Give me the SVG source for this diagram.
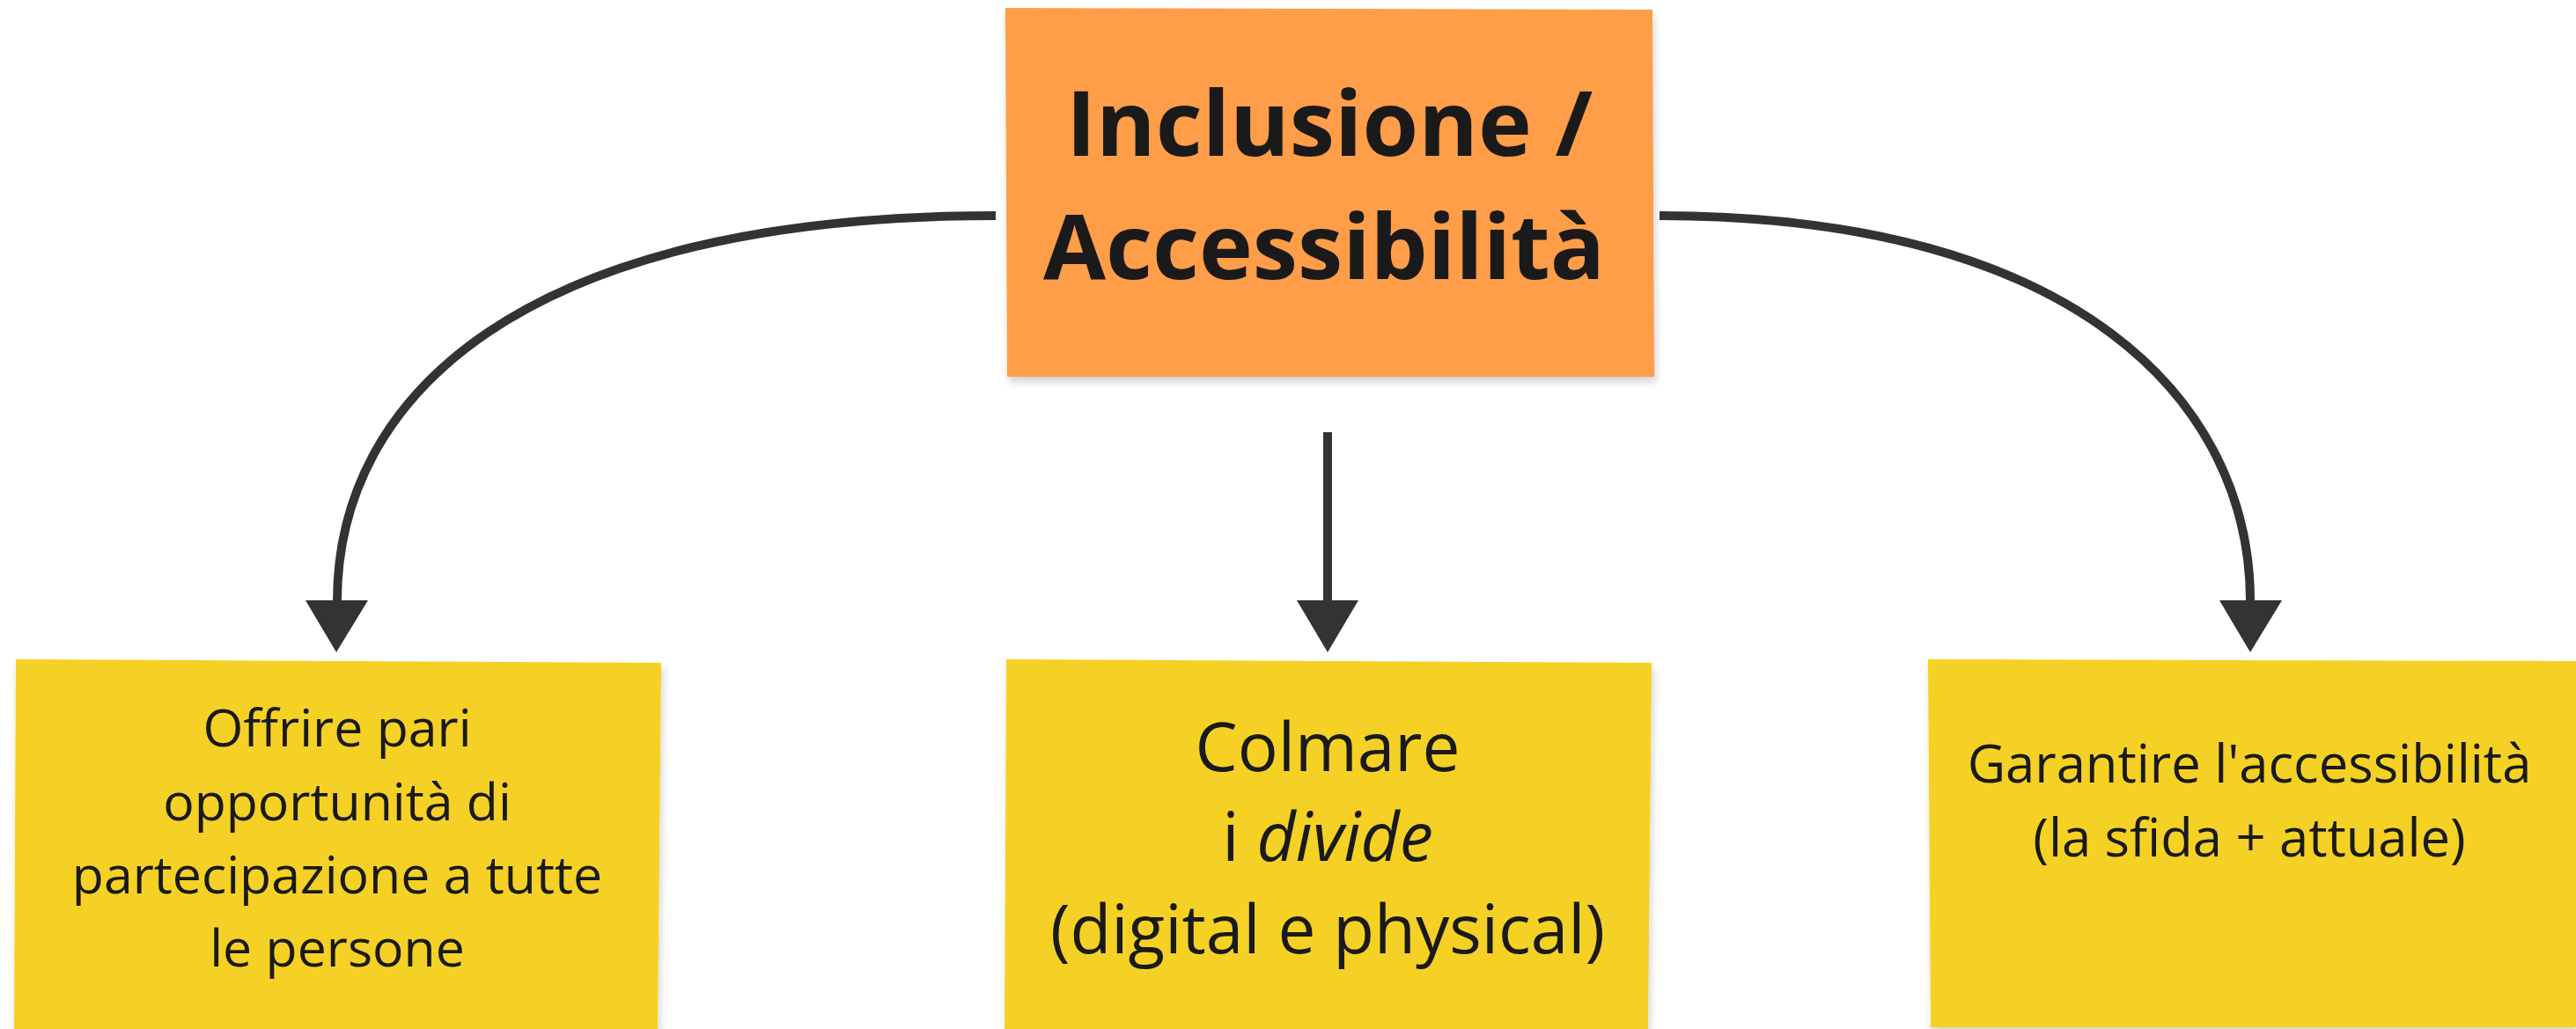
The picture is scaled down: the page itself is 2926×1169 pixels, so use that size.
<svg xmlns="http://www.w3.org/2000/svg" width="2926" height="1169" viewBox="0 0 2926 1169">
<defs>
<filter id="sh" x="-5%" y="-5%" width="110%" height="115%">
<feGaussianBlur in="SourceAlpha" stdDeviation="5"/>
<feOffset dx="2" dy="6" result="b"/>
<feComponentTransfer><feFuncA type="linear" slope="0.18"/></feComponentTransfer>
<feMerge><feMergeNode/><feMergeNode in="SourceGraphic"/></feMerge>
</filter>
<marker id="ah" markerUnits="userSpaceOnUse" markerWidth="72" markerHeight="62" refX="36" refY="1" orient="auto-start-reverse" viewBox="0 0 72 62">
<path d="M1,1 L71,1 L36,60 Z" fill="#333333"/>
</marker>
</defs>
<style>
.t{font-family:"Open Sans","Noto Sans","Liberation Sans",sans-serif;fill:#1a1a1a;text-anchor:middle}
.title{font-weight:700;font-size:103px}
.s{font-size:59px}
.m{font-size:76.5px}
.r{font-size:59.7px}
.c{fill:none;stroke:#333333;stroke-width:10}
.ah{fill:#333333}
</style>
<rect width="2926" height="1169" fill="#ffffff"/>
<g id="connectors">
<path class="c" d="M1131,245 C591,245 383,452 383,683"/>
<polygon class="ah" points="347,682 418,682 382,741"/>
<path class="c" d="M1508,491 L1508,683"/>
<polygon class="ah" points="1473,682 1543,682 1508,741"/>
<path class="c" d="M1885,245 C2360,245 2556,457 2556,683"/>
<polygon class="ah" points="2521,682 2592,682 2556,741"/>
</g>
<g id="node-inclusione">
<polygon points="1142,9 1877,11 1879,428 1144,428" fill="#FF9D48" filter="url(#sh)"/>
<text class="t title" x="1510" y="177">Inclusione /</text>
<text class="t title" x="1504" y="317">Accessibilità</text>
</g>
<g id="node-offrire">
<polygon points="18,749 751,753 747,1169 16,1169" fill="#F5D128" filter="url(#sh)"/>
<text class="t s" x="383" y="848">Offrire pari</text>
<text class="t s" x="383" y="932">opportunità di</text>
<text class="t s" x="383" y="1015">partecipazione a tutte</text>
<text class="t s" x="383" y="1098">le persone</text>
</g>
<g id="node-colmare">
<polygon points="1143,749 1876,753 1872,1169 1141,1169" fill="#F5D128" filter="url(#sh)"/>
<text class="t m" x="1508" y="876">Colmare</text>
<text class="t m" x="1508" y="978">i <tspan font-style="italic">divide</tspan></text>
<text class="t m" x="1508" y="1083">(digital e physical)</text>
</g>
<g id="node-garantire">
<polygon points="2190,749 2926,751 2926,1167 2193,1167" fill="#F5D128" filter="url(#sh)"/>
<text class="t r" x="2555" y="889">Garantire l'accessibilità</text>
<text class="t r" x="2555" y="973">(la sfida + attuale)</text>
</g>
</svg>
